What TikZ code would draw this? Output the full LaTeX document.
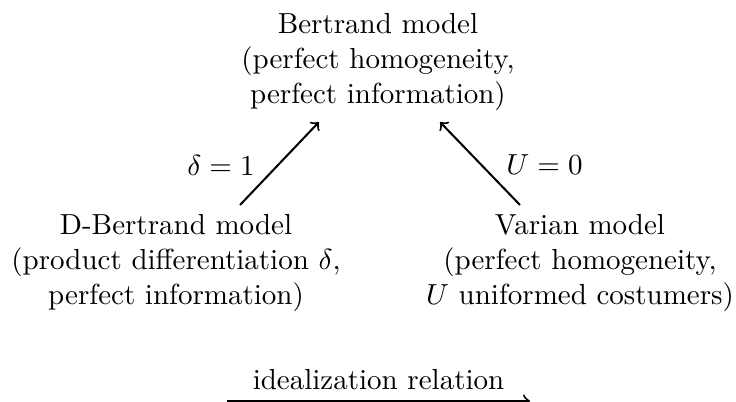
\documentclass[tikz,border=0pt]{standalone}
\begin{document}
\begin{tikzpicture}[x=0.3448pt, y=-0.3448pt,
  model/.style={align=center, inner sep=0pt},
  rel/.style={->, line width=0.7pt},
  lbl/.style={inner sep=0pt}]
\useasboundingbox (0,0) rectangle (736,402);
\node[model] (bert) at (378,62) {Bertrand model\\(perfect homogeneity,\\perfect information)};
\node[model] (dbert) at (176,263) {D-Bertrand model\\(product differentiation $\delta$,\\perfect information)};
\node[model] (varian) at (580,263) {Varian model\\(perfect homogeneity,\\$U$ uniformed costumers)};
\coordinate (ls) at (240,205);
\coordinate (le) at (319,122);
\coordinate (rs) at (520,205);
\coordinate (re) at (440,122);
\draw[rel] (ls) -- (le);
\draw[rel] (rs) -- (re);
\node[lbl] (dl) at (221,165) {$\delta=1$};
\node[lbl] (ul) at (544.5,165) {$U=0$};
\coordinate (ks) at (227,401);
\coordinate (ke) at (530,401);
\draw[rel] (ks) -- node[above] (kl) {idealization relation} (ke);
\end{tikzpicture}
\end{document}
